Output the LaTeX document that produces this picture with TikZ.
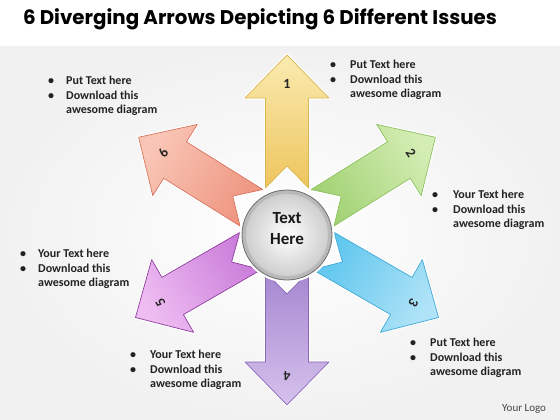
\documentclass[tikz,border=0pt]{standalone}
\usepackage{fontspec}
\setmainfont{Carlito}
\newfontfamily\titlefont{Poppins}
\usetikzlibrary{calc}
\definecolor{yelL}{HTML}{FAEBB0}\definecolor{yelD}{HTML}{EEC55E}\definecolor{yelB}{HTML}{D9B552}
\definecolor{grnL}{HTML}{D4EDB4}\definecolor{grnD}{HTML}{A2D274}\definecolor{grnB}{HTML}{8CC060}
\definecolor{cyaL}{HTML}{B0E3F7}\definecolor{cyaD}{HTML}{5EC6EE}\definecolor{cyaB}{HTML}{3EA8D6}
\definecolor{purL}{HTML}{D6C2EC}\definecolor{purD}{HTML}{A687D1}\definecolor{purB}{HTML}{8A68B8}
\definecolor{magL}{HTML}{EFBDF2}\definecolor{magD}{HTML}{C97CD9}\definecolor{magB}{HTML}{8E3E9E}
\definecolor{salL}{HTML}{F9C6B6}\definecolor{salD}{HTML}{EE9580}\definecolor{salB}{HTML}{D8745F}
\definecolor{txtc}{HTML}{222222}
\tikzset{
  txt/.style={font=\bfseries\fontsize{12}{14}\selectfont, text=txtc, inner sep=0pt},
  numlab/.style={font=\bfseries\fontsize{14}{16}\selectfont, text=black!85, inner sep=0pt},
  glow/.style={draw=white, line width=3pt, line join=round},
}
\newcommand\arrpath{(42,21.5)--(132,21.5)--(132,42)--(175,0)--(132,-42)--(132,-21.5)--(42,-21.5)--(64,0)--cycle}
% #1 direction, #2 shading angle/label rotation, #3 light, #4 dark, #5 border, #6 number, #7 name
\newcommand\dirarrow[7]{%
  \begin{scope}[shift={(287,190)}, rotate=#1]
    \path[glow] \arrpath;
    \shade[top color=#3, bottom color=#4, shading angle=#2] \arrpath;
    \draw[#5, line width=0.7pt, line join=round] \arrpath;
  \end{scope}
  \node[numlab, rotate=#2] (#7) at ($(287,190)+(#1:146)$) {#6};
}
% name, bullet x, text x, first baseline (image y), line1
\newcommand\blk[5]{%
  \node[txt, anchor=base] (#1b1) at (#2, 420-#4) {\textbullet};
  \node[txt, anchor=base] (#1b2) at (#2, 420-#4-14.5) {\textbullet};
  \node[txt, anchor=base west] (#1l1) at (#3, 420-#4) {#5};
  \node[txt, anchor=base west] (#1l2) at (#3, 420-#4-14.5) {Download this};
  \node[txt, anchor=base west] (#1l3) at (#3, 420-#4-29) {awesome diagram};
}
\begin{document}
\begin{tikzpicture}[x=1pt, y=1pt]
\useasboundingbox (0,0) rectangle (560,420);
\shade[inner color=white, outer color=gray!11] (0,0) rectangle (560,374);
\fill[white] (0,374) rectangle (560,420);
\node[font=\titlefont\bfseries\fontsize{19.8}{23}\selectfont, anchor=base, inner sep=0pt] (title) at (260,395) {6 Diverging Arrows Depicting 6 Different Issues};
% arrows
\dirarrow{90}{0}{yelL}{yelD}{yelB}{1}{n1}
\dirarrow{32}{-58}{grnL}{grnD}{grnB}{2}{n2}
\dirarrow{-30}{-120}{cyaL}{cyaD}{cyaB}{3}{n3}
\dirarrow{-90}{180}{purL}{purD}{purB}{4}{n4}
\dirarrow{-150}{120}{magL}{magD}{magB}{5}{n5}
\dirarrow{148}{58}{salL}{salD}{salB}{6}{n6}
% center circle
\fill[white] (287,185) circle (47.5);
\draw[gray!85!black, line width=0.8pt, fill=gray!55] (287,185) circle (45);
\shade[inner color=white, outer color=gray!38] (287,185) circle (41);
\draw[gray!45, line width=0.4pt] (287,185) circle (41);
\node[font=\bfseries\fontsize{17}{21}\selectfont, align=center, text=black!90, inner sep=0pt] (center) at (287,191) {Text\\Here};
% text blocks
\blk{a}{51}{66}{85}{Put Text here}
\blk{b}{333}{350}{69}{Put Text here}
\blk{c}{435}{453}{199}{Your Text here}
\blk{d}{23}{38}{258}{Your Text here}
\blk{e}{133}{150}{359}{Your Text here}
\blk{f}{413}{430}{347}{Put Text here}
\node[font=\fontsize{11}{13}\selectfont, text=gray!55!black, anchor=base west, inner sep=0pt] (logo) at (502,8) {Your Logo};
\end{tikzpicture}
\end{document}
